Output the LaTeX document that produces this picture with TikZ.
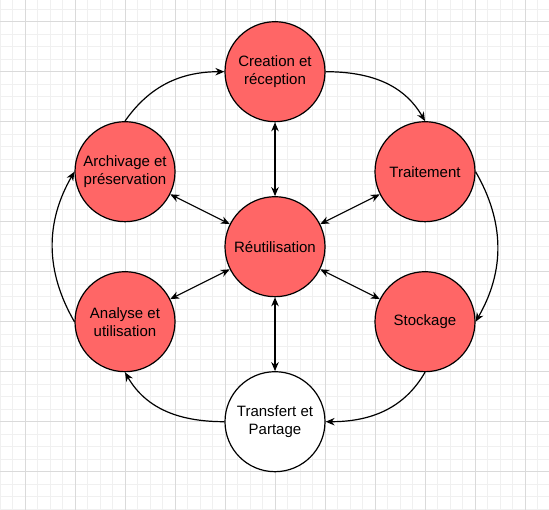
\documentclass[tikz,border=0pt]{standalone}
\usepackage{fontspec,tikz}
\usetikzlibrary{arrows.meta}
\setmainfont{Liberation Sans}
\definecolor{gridminor}{HTML}{F0F0F0}
\definecolor{gridmajor}{HTML}{DADADA}
\definecolor{stagered}{HTML}{FF6666}
\begin{document}
\begin{tikzpicture}[x=1pt,y=-1pt,
  stage/.style={circle,draw,line width=1.2pt,fill=stagered,minimum size=100pt,inner sep=0pt,align=center,font=\fontsize{15}{18}\selectfont},
  oneway/.style={line width=1.2pt,-{Stealth[length=9pt,width=7.5pt]}},
  twoway/.style={line width=1.2pt,{Stealth[length=9pt,width=7.5pt]}-{Stealth[length=9pt,width=7.5pt]}}]
\path[use as bounding box,fill=white] (0,0) rectangle (549,510);
\foreach \x in {0,12.5,...,549} \draw[gridminor,line width=0.8pt] (\x,0) -- (\x,510);
\foreach \y in {9.2,21.7,...,510} \draw[gridminor,line width=0.8pt] (0,\y) -- (549,\y);
\foreach \x in {25,75,...,549} \draw[gridmajor,line width=0.8pt] (\x,0) -- (\x,510);
\foreach \y in {21.7,71.7,...,510} \draw[gridmajor,line width=0.8pt] (0,\y) -- (549,\y);
\node[stage] (creation) at (275,71.7) {Creation et\\réception};
\node[stage] (traitement) at (425,171.7) {Traitement};
\node[stage] (stockage) at (425,321.7) {Stockage};
\node[stage,fill=white] (transfert) at (275,421.7) {Transfert et\\Partage};
\node[stage] (analyse) at (125,321.7) {Analyse et\\utilisation};
\node[stage] (archivage) at (125,171.7) {Archivage et\\préservation};
\node[stage] (reuse) at (275,246.7) {Réutilisation};
\draw[oneway] (archivage.north) to[out=55,in=180] (creation.west);
\draw[oneway] (creation.east) to[out=0,in=120] (traitement.north);
\draw[oneway] (traitement.east) to[out=-60,in=60] (stockage.east);
\draw[oneway] (stockage.south) to[out=-120,in=0] (transfert.east);
\draw[oneway] (transfert.west) to[out=180,in=-60] (analyse.south);
\draw[oneway] (analyse.west) to[out=120,in=-120] (archivage.west);
\draw[twoway] (reuse) -- (creation);
\draw[twoway] (reuse) -- (transfert);
\draw[twoway] (reuse) -- (traitement);
\draw[twoway] (reuse) -- (stockage);
\draw[twoway] (reuse) -- (analyse);
\draw[twoway] (reuse) -- (archivage);
\end{tikzpicture}
\end{document}
